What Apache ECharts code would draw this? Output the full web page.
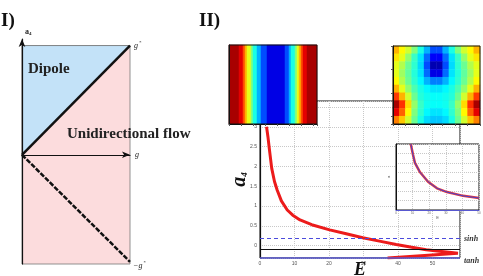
<!DOCTYPE html>
<html>
<head>
<meta charset="utf-8">
<script src="https://cdn.jsdelivr.net/npm/echarts@6/dist/echarts.min.js"></script>
<style>
html, body { margin: 0; padding: 0; background: #fff; }
#main { width: 483px; height: 276px; }
</style>
</head>
<body>
<div id="main"></div>
<script>
// panel I : regions in the (g, a4) plane
var rectCorners = [[0, -1], [1, -1], [1, 1], [0, 1]];
var dipoleCorners = [[0, 0], [1, 1], [0, 1]];
var upperBoundary = [[0, 0], [1, 1]];
var lowerBoundary = [[0, 0], [1, -0.98]];

// panel II : a4 against E
var curveE = [1.9, 2.3, 2.7, 3.4, 4.2, 5.0, 6.2, 7.9, 9.5, 11.6, 15, 20.2, 25, 29.8, 35, 39.5, 44, 48.2, 52, 55.5, 57.4, 37];
var curveA4 = [3.0, 2.75, 2.45, 1.95, 1.62, 1.4, 1.13, 0.9, 0.77, 0.65, 0.53, 0.4, 0.3, 0.2, 0.11, 0.03, -0.04, -0.1, -0.14, -0.17, -0.19, -0.31];
var sinhLevel = 0.18;
var blackLevel = -0.08;
var tanhLevel = -0.31;

// inset
var insetX = [8.9, 10.2, 11.4, 14.5, 19.3, 24.7, 30.7, 40.4, 50];
var insetY = [7.0, 5.9, 5.0, 4.0, 3.0, 2.3, 1.9, 1.5, 1.27];

// left picture : vertical stripes (level per column, 0 = dark blue, 10 = dark red)
var stripeLevels = [9.6, 9.6, 9.6, 9.6, 9.6, 9, 9, 8, 7, 6, 6, 5, 4, 4, 3, 3, 2, 2, 2,
  1, 1, 1, 1, 1, 1, 1, 1, 1, 2, 2, 3, 4, 4, 5, 6, 7, 8, 9, 9, 9.6, 9.6, 9.6, 9.6, 9.6];

// right picture : level field, rows from top to bottom
var fieldLevels = [
  [7.0, 6.3, 5.8, 5.0, 4.0, 3.0, 2.0, 2.0, 3.0, 4.0, 5.0, 5.8, 6.3, 7.0],
  [6.5, 6.0, 5.2, 4.3, 3.5, 2.3, 1.2, 1.2, 2.3, 3.5, 4.3, 5.2, 6.0, 6.5],
  [6.0, 5.5, 4.8, 4.2, 3.4, 2.0, 0.5, 0.5, 2.0, 3.4, 4.2, 4.8, 5.5, 6.0],
  [6.0, 5.3, 4.7, 4.1, 3.5, 2.3, 1.0, 1.0, 2.3, 3.5, 4.1, 4.7, 5.3, 6.0],
  [6.3, 5.5, 4.8, 4.2, 3.7, 3.0, 2.5, 2.5, 3.0, 3.7, 4.2, 4.8, 5.5, 6.3],
  [7.0, 6.0, 5.2, 4.5, 4.0, 3.7, 3.5, 3.5, 3.7, 4.0, 4.5, 5.2, 6.0, 7.0],
  [8.2, 7.0, 5.8, 4.8, 4.1, 3.9, 3.8, 3.8, 3.9, 4.1, 4.8, 5.8, 7.0, 8.2],
  [9.6, 8.3, 6.6, 5.2, 4.3, 3.9, 3.8, 3.8, 3.9, 4.3, 5.2, 6.6, 8.3, 9.6],
  [9.0, 7.8, 6.3, 5.0, 4.2, 3.7, 3.5, 3.5, 3.7, 4.2, 5.0, 6.3, 7.8, 9.0],
  [7.5, 6.8, 5.8, 4.8, 4.0, 3.4, 3.2, 3.2, 3.4, 4.0, 4.8, 5.8, 6.8, 7.5]
];

var jet = ['#00007f', '#0000ff', '#007fff', '#00ffff', '#7fff7f', '#ffff00', '#ff7f00', '#ff0000', '#7f0000'];
var serif = 'Liberation Serif';

function pairs(xs, ys) {
  return xs.map(function (x, i) { return [x, ys[i]]; });
}

function polygonItem(corners, fill) {
  return function (params, api) {
    if (params.dataIndex !== 0) return null;
    return {
      type: 'polygon',
      shape: { points: corners.map(function (c) { return api.coord(c); }) },
      style: { fill: fill, stroke: '#777', lineWidth: 0.8 }
    };
  };
}

var stripeData = stripeLevels.map(function (v, i) { return [i, 0, v]; });
var fieldData = [];
fieldLevels.forEach(function (row, r) {
  row.forEach(function (v, c) { fieldData.push([c, r, v]); });
});

var tinyLabel = { fontSize: 5, color: '#555', margin: 3 };
var dotted = { lineStyle: { type: 'dotted', color: '#c8c8c8', width: 1 } };

var myChart = echarts.init(document.getElementById('main'));
var option = {
  animation: false,
  graphic: [
    { type: 'text', left: 1, top: 12, z: 100, style: { text: 'I)', font: 'bold 19px "Liberation Serif"', fill: '#111' } },
    { type: 'text', left: 199, top: 12, z: 100, style: { text: 'II)', font: 'bold 19px "Liberation Serif"', fill: '#111' } },
    { type: 'text', left: 28, top: 62, z: 100, style: { text: 'Dipole', font: 'bold 15px "Liberation Serif"', fill: '#222' } },
    { type: 'text', left: 67, top: 127, z: 100, style: { text: 'Unidirectional flow', font: 'bold 15px "Liberation Serif"', fill: '#222' } }
  ],
  grid: [
    { left: 22, top: 39, width: 108, height: 225, outerBoundsMode: 'none' },
    { left: 260, top: 101, width: 200, height: 157, show: true, borderColor: '#111', borderWidth: 1, outerBoundsMode: 'none' },
    { left: 396, top: 144, width: 83, height: 66, show: true, backgroundColor: '#fff', borderColor: '#111', borderWidth: 1, z: 5, outerBoundsMode: 'none' },
    { left: 229, top: 45, width: 88, height: 79, show: true, borderColor: '#111', borderWidth: 1, z: 9, outerBoundsMode: 'none' },
    { left: 393, top: 46, width: 87, height: 78, show: true, borderColor: '#111', borderWidth: 1, z: 9, outerBoundsMode: 'none' }
  ],
  xAxis: [
    {
      gridIndex: 0, type: 'value', min: 0, max: 1, z: 10,
      name: 'g', nameLocation: 'end', nameGap: 5,
      nameTextStyle: { fontFamily: serif, fontStyle: 'italic', fontSize: 8, color: '#222' },
      axisLine: { onZero: true, symbol: ['none', 'arrow'], symbolSize: [5, 8], lineStyle: { color: '#111', width: 1.2 } },
      axisTick: { show: false }, axisLabel: { show: false }, splitLine: { show: false }
    },
    {
      gridIndex: 1, type: 'value', min: 0, max: 58, interval: 10,
      name: 'E', nameLocation: 'middle', nameGap: 3, nameMoveOverlap: false,
      nameTextStyle: { fontFamily: serif, fontStyle: 'italic', fontWeight: 'bold', fontSize: 18, color: '#111', verticalAlign: 'top' },
      axisLine: { show: false }, axisTick: { show: false },
      axisLabel: Object.assign({ formatter: function (v) { return v % 10 === 0 ? String(v) : ''; } }, tinyLabel),
      splitLine: dotted
    },
    {
      gridIndex: 2, type: 'value', min: 0, max: 50, interval: 10, z: 6,
      name: 'E', nameLocation: 'middle', nameGap: 5, nameTextStyle: { fontSize: 4, color: '#555' },
      axisLine: { lineStyle: { color: '#5858d0', width: 1.2 } }, axisTick: { show: false },
      axisLabel: { fontSize: 3, color: '#666', margin: 2 },
      splitLine: dotted
    },
    {
      gridIndex: 3, type: 'category', data: stripeLevels.map(function (v, i) { return i; }), z: 10,
      axisLine: { lineStyle: { color: '#111' } },
      axisTick: { show: true, length: 2, interval: 5, lineStyle: { color: '#555' } },
      axisLabel: { show: false }, splitLine: { show: false }
    },
    {
      gridIndex: 4, type: 'category', data: fieldLevels[0].map(function (v, i) { return i; }), z: 10,
      axisLine: { lineStyle: { color: '#111' } },
      axisTick: { show: true, length: 2, interval: 1, lineStyle: { color: '#555' } },
      axisLabel: { show: false }, splitLine: { show: false }
    }
  ],
  yAxis: [
    {
      gridIndex: 0, type: 'value', min: -1, max: 1.06, z: 10,
      name: '{a|a}{s|4}', nameLocation: 'end', nameGap: 3,
      nameTextStyle: {
        align: 'left', padding: [0, 0, 0, 3],
        rich: {
          a: { fontFamily: serif, fontWeight: 'bold', fontSize: 8, color: '#222' },
          s: { fontFamily: serif, fontWeight: 'bold', fontSize: 5, color: '#222', padding: [3, 0, 0, 0] }
        }
      },
      axisLine: { onZero: true, symbol: ['none', 'arrow'], symbolSize: [5, 8], lineStyle: { color: '#111', width: 1.2 } },
      axisTick: { show: false }, axisLabel: { show: false }, splitLine: { show: false }
    },
    {
      gridIndex: 1, type: 'value', min: tanhLevel, max: 3.65, splitNumber: 8,
      name: '{a|a}{s|4}', nameLocation: 'middle', nameRotate: 90, nameGap: 10, nameMoveOverlap: false,
      nameTextStyle: {
        rich: {
          a: { fontFamily: serif, fontStyle: 'italic', fontWeight: 'bold', fontSize: 20, color: '#111' },
          s: { fontFamily: serif, fontStyle: 'italic', fontWeight: 'bold', fontSize: 9, color: '#111', padding: [9, 0, 0, 0] }
        }
      },
      axisLine: { show: true, lineStyle: { color: '#111', width: 1.2 } }, axisTick: { show: false },
      axisLabel: Object.assign({
        formatter: function (v) {
          return (v >= 0 && v <= 3 && Math.abs(v * 2 - Math.round(v * 2)) < 1e-6) ? String(v) : '';
        }
      }, tinyLabel),
      splitLine: dotted
    },
    {
      gridIndex: 2, type: 'value', min: 0, max: 7, interval: 1, z: 6,
      name: 'a', nameLocation: 'middle', nameGap: 5, nameTextStyle: { fontSize: 4, color: '#555' },
      axisLine: { lineStyle: { color: '#111' } }, axisTick: { show: false },
      axisLabel: { show: false },
      splitLine: dotted
    },
    {
      gridIndex: 3, type: 'category', data: [0], z: 10,
      axisLine: { lineStyle: { color: '#111' } },
      axisTick: { show: false }, axisLabel: { show: false }, splitLine: { show: false }
    },
    {
      gridIndex: 4, type: 'category', inverse: true, data: fieldLevels.map(function (r, i) { return i; }), z: 10,
      axisLine: { lineStyle: { color: '#111' } },
      axisTick: { show: true, length: 2, lineStyle: { color: '#555' } },
      axisLabel: { show: false }, splitLine: { show: false }
    }
  ],
  visualMap: [
    { type: 'continuous', show: false, seriesIndex: 7, dimension: 2, min: 0, max: 10, inRange: { color: jet } },
    { type: 'continuous', show: false, seriesIndex: 8, dimension: 2, min: 0, max: 10, inRange: { color: jet } }
  ],
  series: [
    {
      type: 'custom', xAxisIndex: 0, yAxisIndex: 0, silent: true, z: 2,
      data: rectCorners, renderItem: polygonItem(rectCorners, '#fcdcdd')
    },
    {
      type: 'custom', xAxisIndex: 0, yAxisIndex: 0, silent: true, z: 3,
      data: dipoleCorners, renderItem: polygonItem(dipoleCorners, '#c3e2f8')
    },
    {
      type: 'line', xAxisIndex: 0, yAxisIndex: 0, data: upperBoundary, z: 4,
      showSymbol: false, silent: true,
      lineStyle: { color: '#111', width: 2.5 },
      endLabel: {
        show: true, distance: 4, formatter: '{g|g}{s|*}',
        rich: {
          g: { fontFamily: serif, fontStyle: 'italic', fontSize: 8, color: '#222' },
          s: { fontFamily: serif, fontSize: 5, color: '#222', padding: [0, 0, 6, 1] }
        }
      }
    },
    {
      type: 'line', xAxisIndex: 0, yAxisIndex: 0, data: lowerBoundary, z: 4,
      showSymbol: false, silent: true,
      lineStyle: { color: '#111', width: 2.5, type: [5, 1.5] },
      endLabel: {
        show: true, distance: 3, offset: [0, 4], formatter: '{g|\u2212g}{s|*}',
        rich: {
          g: { fontFamily: serif, fontStyle: 'italic', fontSize: 8, color: '#222' },
          s: { fontFamily: serif, fontSize: 5, color: '#222', padding: [0, 0, 6, 1] }
        }
      }
    },
    {
      type: 'line', xAxisIndex: 1, yAxisIndex: 1, data: pairs(curveE, curveA4),
      showSymbol: false, silent: true, z: 3,
      lineStyle: { color: '#ec1b1b', width: 3 },
      markLine: {
        symbol: ['none', 'none'], silent: true,
        label: { fontFamily: serif, fontStyle: 'italic', fontWeight: 'bold', fontSize: 8, color: '#333', distance: 4 },
        data: [
          { yAxis: sinhLevel, lineStyle: { type: [4, 3], color: '#4b4bdc', width: 1 }, label: { show: true, position: 'end', formatter: 'sinh' } },
          { yAxis: blackLevel, lineStyle: { type: 'solid', color: '#111', width: 1 }, label: { show: false } },
          { yAxis: tanhLevel, lineStyle: { type: 'solid', color: '#5858d0', width: 1.5 }, label: { show: true, position: 'end', formatter: 'tanh', offset: [0, 3] } }
        ]
      }
    },
    {
      type: 'line', xAxisIndex: 2, yAxisIndex: 2, data: pairs(insetX, insetY), z: 7,
      showSymbol: false, silent: true, lineStyle: { color: '#e8393c', width: 2.5 }
    },
    {
      type: 'line', xAxisIndex: 2, yAxisIndex: 2, data: pairs(insetX, insetY), z: 7,
      showSymbol: false, silent: true, lineStyle: { color: '#4444cc', width: 1 }
    },
    {
      type: 'heatmap', xAxisIndex: 3, yAxisIndex: 3, data: stripeData, z: 8,
      silent: true, itemStyle: { borderWidth: 0 }
    },
    {
      type: 'heatmap', xAxisIndex: 4, yAxisIndex: 4, data: fieldData, z: 8,
      silent: true, itemStyle: { borderWidth: 0 }
    }
  ]
};

option && myChart.setOption(option);
</script>
</body>
</html>
